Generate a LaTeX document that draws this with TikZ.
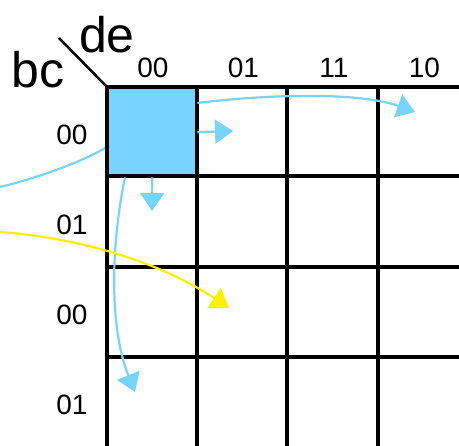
\documentclass[tikz,border=0pt]{standalone}
\usepackage{fontspec}
\setmainfont{Liberation Sans}
\usetikzlibrary{arrows.meta}
\definecolor{kblue}{HTML}{77D4FF}
\definecolor{kyellow}{HTML}{FFF000}
\begin{document}
\begin{tikzpicture}[x=1pt,y=-1pt,
  gridline/.style={line width=4pt},
  lbl/.style={font=\fontsize{28}{30}\selectfont,inner sep=0pt},
  var/.style={font=\fontsize{50}{52}\selectfont,inner sep=0pt},
  move/.style={kblue,line width=2.2pt,-{Triangle[length=18pt,width=24pt]}}]
  \useasboundingbox (0,0) rectangle (459,446);
  % wrap-around neighbour from the left
  \draw[kblue,line width=2.2pt] (0,187) .. controls (45,176) and (85,160) .. (107,147);
  \node[fill=kblue,minimum size=90pt,inner sep=0pt,anchor=north west] (c00) at (107,87) {};
  \foreach \x in {107,197,287,378}
    \draw[gridline] (\x,87) -- (\x,446);
  \foreach \y in {87,176,267,357}
    \draw[gridline] (107,\y) -- (459,\y);
  \draw[line width=2.5pt] (c00.north west) -- ++(-48,-49);
  \node[var] (bc) at (38,70) {bc};
  \node[var] (de) at (107,35) {de};
  % column and row labels
  \foreach \t [count=\i from 0] in {00,01,11,10}
    \node[lbl] (col\i) at (153+90.5*\i,68) {\t};
  \foreach \t [count=\i from 0] in {00,01,00,01}
    \node[lbl] (row\i) at (72,135+90*\i) {\t};
  % neighbours of the marked cell
  \coordinate (right) at (233,131);
  \coordinate (down) at (152,211);
  \coordinate (far) at (415,112);
  \coordinate (low) at (135,392);
  \draw[move] (c00.east) -- (right);
  \draw[move] (c00.south) -- (down);
  \draw[move] ([yshift=-16pt]c00.north east) .. controls (270,94) and (360,92) .. (far);
  \draw[move] ([xshift=18pt]c00.south west) .. controls (110,250) and (110,330) .. (low);
  \coordinate (yin) at (0,232);
  \coordinate (yout) at (229,308);
  \draw[kyellow,line width=2.2pt,-{Triangle[length=18pt,width=24pt]}]
    (yin) .. controls (80,238) and (160,262) .. (yout);
\end{tikzpicture}
\end{document}
